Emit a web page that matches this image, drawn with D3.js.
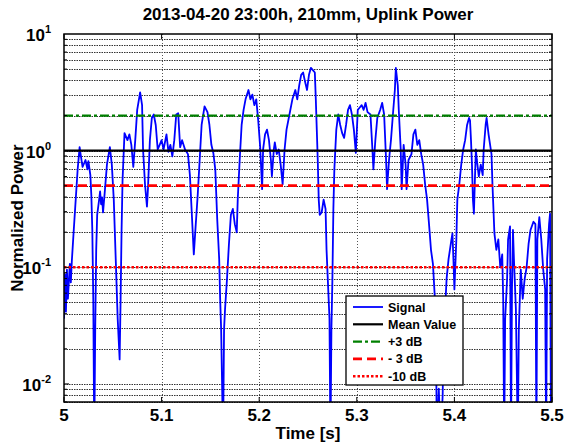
<!DOCTYPE html>
<html>
<head>
<meta charset="utf-8">
<script src="https://cdn.jsdelivr.net/npm/d3@7"></script>
<style>
body { margin: 0; background: #fff; }
text { font-family: Arial, "Liberation Sans", sans-serif; font-weight: bold; fill: #000; }
</style>
</head>
<body>
<svg id="chart" width="565" height="443"></svg>
<script>
// time axis of the signal (s)
var timeS = [
  5.000,5.001,5.002,5.003,5.004,5.006,5.007,5.008,5.010,5.012,
  5.014,5.016,5.017,5.019,5.022,5.024,5.025,5.027,5.028,5.029,
  5.030,5.031,5.032,5.033,5.034,5.036,5.037,5.038,5.039,5.040,
  5.042,5.044,5.047,5.049,5.051,5.053,5.055,5.057,5.058,5.059,
  5.060,5.062,5.065,5.067,5.069,5.071,5.073,5.075,5.078,5.080,
  5.081,5.083,5.085,5.086,5.088,5.090,5.092,5.094,5.096,5.098,
  5.100,5.102,5.105,5.107,5.109,5.111,5.113,5.115,5.117,5.119,
  5.121,5.124,5.127,5.129,5.131,5.133,5.135,5.137,5.139,5.141,
  5.144,5.147,5.149,5.151,5.153,5.155,5.157,5.159,5.160,5.161,
  5.163,5.164,5.165,5.167,5.169,5.171,5.173,5.175,5.177,5.178,
  5.180,5.182,5.184,5.186,5.189,5.191,5.193,5.195,5.197,5.199,
  5.201,5.203,5.204,5.206,5.208,5.210,5.212,5.213,5.215,5.216,
  5.218,5.220,5.222,5.224,5.226,5.228,5.231,5.234,5.237,5.239,
  5.241,5.243,5.245,5.247,5.249,5.251,5.253,5.255,5.257,5.258,
  5.259,5.260,5.261,5.262,5.264,5.266,5.268,5.269,5.272,5.273,
  5.274,5.275,5.276,5.277,5.279,5.281,5.283,5.285,5.287,5.289,
  5.291,5.293,5.295,5.297,5.299,5.301,5.303,5.305,5.307,5.309,
  5.311,5.314,5.316,5.317,5.319,5.321,5.324,5.326,5.328,5.330,
  5.331,5.333,5.335,5.337,5.339,5.340,5.342,5.343,5.345,5.346,
  5.348,5.350,5.351,5.353,5.356,5.358,5.360,5.362,5.364,5.366,
  5.368,5.370,5.372,5.374,5.376,5.378,5.380,5.381,5.382,5.384,
  5.386,5.388,5.389,5.391,5.392,5.394,5.397,5.398,5.399,5.400,
  5.402,5.403,5.405,5.407,5.409,5.411,5.413,5.415,5.416,5.417,
  5.418,5.419,5.420,5.421,5.422,5.423,5.425,5.427,5.429,5.430,
  5.432,5.433,5.435,5.438,5.439,5.440,5.441,5.443,5.445,5.447,
  5.449,5.450,5.451,5.452,5.454,5.455,5.457,5.458,5.459,5.460,
  5.461,5.463,5.465,5.466,5.468,5.470,5.472,5.474,5.476,5.478,
  5.481,5.483,5.484,5.485,5.487,5.489,5.491,5.493,5.494,5.495,
  5.497,5.498,5.499
]

// normalized uplink power in dB
var powerDb = [
  -14.4,-10.6,-13.8,-10.2,-12.7,-9.7,-11.3,-9.5,-6.8,-4.2,
  -1.6,0.3,-0.3,-1.4,-0.8,-1.6,-0.9,-2.1,-3.8,-6.8,
  -12.7,-25,-15.3,-8.5,-5.5,-4.2,-3.5,-4.6,-4.0,-5.3,
  -3.3,-1.2,0.3,-1.2,-4.2,-9.3,-14.4,-17.9,-12.7,-6.8,
  -2.5,1.5,0.9,1.4,0.5,-1.4,0.9,3.5,5.0,3.9,
  0.1,-2.9,-4.8,-3.3,0.9,2.8,3.1,2.2,0.1,0.5,
  0.9,0.1,1.4,-0.1,0.5,-0.5,0.9,3.1,3.2,0.3,
  0.9,0.1,-0.3,-2.1,-5.5,-8.9,-6.3,-3.8,-0.8,2.2,
  3.8,3.3,2.2,0.5,-0.2,-1.6,-5.9,-9.3,-12.7,-15.3,
  -25,-15.3,-13.6,-11.0,-8.0,-5.5,-5.0,-6.3,-7.0,-4.2,
  -0.8,2.2,3.5,4.4,5.2,4.4,4.8,3.9,4.4,2.6,
  0.3,-3.3,0.1,1.4,1.8,0.9,-0.8,-2.2,0.1,0.7,
  -0.3,0.1,-1.2,-2.9,0.1,1.8,3.1,4.4,5.2,4.4,
  5.6,6.5,6.7,5.9,5.2,6.5,7.1,6.9,6.7,4.4,
  1.8,-0.8,-4.2,-5.5,-5.3,-4.2,-5.0,-8.5,-14.4,-25,
  -15.3,-11.0,-5.0,-1.6,1.8,3.1,2.2,1.5,1.1,2.2,
  3.5,3.9,3.1,1.8,-0.2,3.5,3.7,3.9,3.5,4.1,
  3.3,3.1,0.1,-1.6,0.9,2.8,3.5,4.1,3.1,-0.8,
  -3.3,-0.8,0.9,3.1,5.2,7.1,5.6,3.5,0.1,-3.3,
  0.5,-1.2,-3.3,-0.8,-0.3,1.4,1.8,0.5,0.9,-0.3,
  -1.2,-2.9,-4.2,-6.3,-8.5,-9.7,-12.7,-14.4,-25,-20.4,
  -25,-20.9,-15.3,-12.7,-11.0,-9.3,-7.6,-7.1,-9.3,-11.9,
  -7.6,-4.2,-2.9,-1.2,0.1,0.9,2.2,2.8,2.6,0.9,
  -1.2,-4.2,-5.4,-2.5,0.1,-0.8,-2.2,-1.2,-2.1,0.1,
  2.2,2.8,1.4,-0.3,-2.9,-5.0,-7.1,-8.5,-7.6,-10.0,
  -8.9,-12.7,-25,-14.4,-11.0,-7.6,-6.5,-25,-11.9,-6.8,
  -9.3,-13.6,-25,-15.3,-10.2,-12.7,-11.0,-10.0,-8.0,-6.8,
  -6.1,-6.3,-25,-7.6,-5.7,-7.6,-10.2,-11.9,-25,-9.3,
  -6.3,-5.4,-25
]

// reference levels in dB: mean, +3, -3, -10
var refDb = [0, 3, -3, -10]
var legendNames = ["Signal", "Mean Value", "+3 dB", "- 3 dB", "-10 dB"]
var xTicks = [5, 5.1, 5.2, 5.3, 5.4, 5.5]
var yDecades = [-2, -1, 0, 1]

var svg = d3.select("#chart")
var W = 565, H = 443
var margin = {top: 34, right: 13, bottom: 41, left: 64}
var pL = margin.left, pR = W - margin.right, pT = margin.top, pB = H - margin.bottom

var x = d3.scaleLinear().domain([5, 5.5]).range([pL, pR])
var y = d3.scaleLog().domain([0.007, 10]).range([pB, pT])

function fromDb(d){ return Math.pow(10, d / 10) }

var data = timeS.map(function(t, i){ return {t: t, p: fromDb(powerDb[i])} })

svg.append("rect").attr("width", W).attr("height", H).attr("fill", "#fff")

// minor / major horizontal grid
var gridVals = []
for (var d = -3; d <= 0; d++) {
  for (var k = 1; k <= 9; k++) {
    var v = k * Math.pow(10, d)
    if (v > 0.0069 && v < 10) gridVals.push(v)
  }
}
svg.append("g").selectAll("line").data(gridVals).enter().append("line")
  .attr("x1", pL).attr("x2", pR)
  .attr("y1", function(d){ return Math.round(y(d)) + 0.5 })
  .attr("y2", function(d){ return Math.round(y(d)) + 0.5 })
  .attr("stroke", "#333").attr("stroke-width", 1.2)
  .attr("stroke-dasharray", "1.5,1")

// vertical grid
svg.append("g").selectAll("line").data(xTicks.slice(1, -1)).enter().append("line")
  .attr("x1", function(d){ return Math.round(x(d)) + 0.5 })
  .attr("x2", function(d){ return Math.round(x(d)) + 0.5 })
  .attr("y1", pT).attr("y2", pB)
  .attr("stroke", "#555").attr("stroke-width", 1)
  .attr("stroke-dasharray", "1,2")

svg.append("clipPath").attr("id", "clip").append("rect")
  .attr("x", pL).attr("y", pT).attr("width", pR - pL).attr("height", pB - pT)

var plot = svg.append("g").attr("clip-path", "url(#clip)")

var line = d3.line()
  .x(function(d){ return x(d.t) })
  .y(function(d){ return y(d.p) })

plot.append("path")
  .datum(data)
  .attr("fill", "none")
  .attr("stroke", "#0000ff")
  .attr("stroke-width", 1.8)
  .attr("stroke-linejoin", "round")
  .attr("d", line)

var refStyles = [
  {color: "#000", dash: null, w: 2.2},
  {color: "#008000", dash: "9,3,3,3", w: 2.2},
  {color: "#ff0000", dash: "9,5", w: 2.6},
  {color: "#ff0000", dash: "2.5,2", w: 2.4}
]

refDb.forEach(function(db, i){
  var s = refStyles[i]
  plot.append("line")
    .attr("x1", pL).attr("x2", pR)
    .attr("y1", y(fromDb(db))).attr("y2", y(fromDb(db)))
    .attr("stroke", s.color).attr("stroke-width", s.w)
    .attr("stroke-dasharray", s.dash)
})

// axes box
svg.append("rect")
  .attr("x", pL).attr("y", pT).attr("width", pR - pL).attr("height", pB - pT)
  .attr("fill", "none").attr("stroke", "#000").attr("stroke-width", 1.5)

// ticks inside the box
var tk = svg.append("g").attr("stroke", "#000").attr("stroke-width", 1)
xTicks.forEach(function(t){
  tk.append("line").attr("x1", x(t)).attr("x2", x(t)).attr("y1", pB).attr("y2", pB - 5)
  tk.append("line").attr("x1", x(t)).attr("x2", x(t)).attr("y1", pT).attr("y2", pT + 5)
})
gridVals.forEach(function(v){
  var major = Math.abs(Math.log10(v) - Math.round(Math.log10(v))) < 1e-6
  var len = major ? 5 : 3
  tk.append("line").attr("x1", pL).attr("x2", pL + len).attr("y1", y(v)).attr("y2", y(v))
  tk.append("line").attr("x1", pR).attr("x2", pR - len).attr("y1", y(v)).attr("y2", y(v))
})

// x tick labels
svg.append("g").selectAll("text").data(xTicks).enter().append("text")
  .attr("x", function(d){ return x(d) })
  .attr("y", 421)
  .attr("text-anchor", "middle")
  .attr("font-size", 17)
  .text(function(d){ return d3.format("")(d) })

// y tick labels 10^n
var yl = svg.append("g").selectAll("text").data(yDecades).enter().append("text")
  .attr("x", 51)
  .attr("y", function(d){ return y(Math.pow(10, d)) + 7 })
  .attr("text-anchor", "end")
  .attr("font-size", 17)
yl.append("tspan").text("10")
yl.append("tspan")
  .attr("dy", -8).attr("font-size", 11)
  .text(function(d){ return d })

// title and axis labels
svg.append("text")
  .attr("x", (pL + pR) / 2).attr("y", 20)
  .attr("text-anchor", "middle").attr("font-size", 17)
  .text("2013-04-20 23:00h, 210mm, Uplink Power")

svg.append("text")
  .attr("x", (pL + pR) / 2).attr("y", 439)
  .attr("text-anchor", "middle").attr("font-size", 17)
  .text("Time [s]")

svg.append("text")
  .attr("transform", "translate(23," + ((pT + pB) / 2) + ") rotate(-90)")
  .attr("text-anchor", "middle").attr("font-size", 17)
  .text("Normalized Power")

// legend
var lg = svg.append("g").attr("transform", "translate(346,296)")
lg.append("rect").attr("width", 117).attr("height", 89)
  .attr("fill", "#fff").attr("stroke", "#000").attr("stroke-width", 1.3)
var legStyles = [{color: "#0000ff", dash: null, w: 1.8}].concat(refStyles)
legendNames.forEach(function(name, i){
  var ly = 11 + i * 17.3
  var s = legStyles[i]
  lg.append("line").attr("x1", 7).attr("x2", 37).attr("y1", ly).attr("y2", ly)
    .attr("stroke", s.color).attr("stroke-width", s.w).attr("stroke-dasharray", s.dash)
  lg.append("text").attr("x", 42).attr("y", ly + 4.5).attr("font-size", 12.5).text(name)
})
</script>
</body>
</html>
